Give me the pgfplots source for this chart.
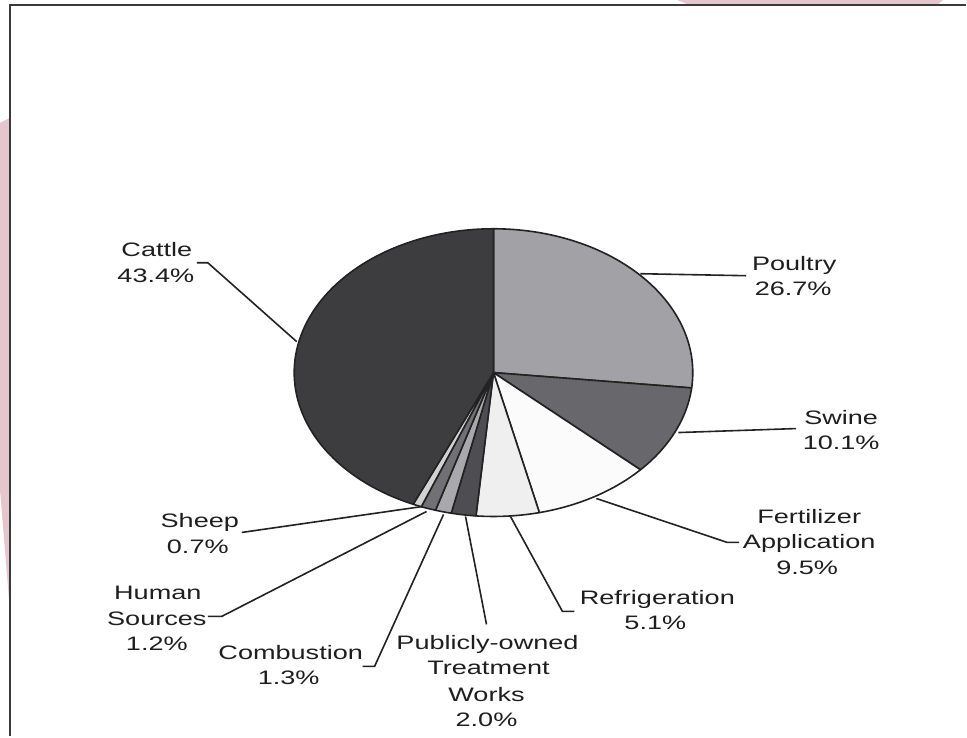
\documentclass[border=0pt]{standalone}
\usepackage{pgfplots}
\pgfplotsset{compat=1.18}
\usepackage{pgfplotstable}
\usepackage{graphicx}
\usepackage{fontspec}
\setmainfont{Liberation Sans}

\definecolor{cPoultry}{HTML}{A2A2A6}
\definecolor{cSwine}{HTML}{68686C}
\definecolor{cFert}{HTML}{FBFBFB}
\definecolor{cRefr}{HTML}{EFEFEF}
\definecolor{cPOTW}{HTML}{4D4D52}
\definecolor{cComb}{HTML}{A9A9AD}
\definecolor{cHuman}{HTML}{717175}
\definecolor{cSheep}{HTML}{D2D2D2}
\definecolor{cCattle}{HTML}{3D3D3F}
\definecolor{edge}{HTML}{222222}
\definecolor{txt}{HTML}{1E1E1E}
\definecolor{pinkbg}{HTML}{E6C6CD}
\definecolor{frame}{HTML}{3A3A3A}

% share of each source, clockwise from the top
\pgfplotstableread{
value color
26.7 cPoultry
10.1 cSwine
9.5 cFert
5.1 cRefr
2.0 cPOTW
1.3 cComb
1.2 cHuman
0.7 cSheep
43.4 cCattle
}\piedata

\newcommand{\lbl}[3]{\node[anchor=base, inner sep=0pt, text=txt, font=\fontsize{19.5bp}{24bp}\selectfont] at (axis cs:#1,#2) {\scalebox{1.39}[1]{#3}};}

\begin{document}
\begin{tikzpicture}
\begin{axis}[
  width=967bp, height=737bp, scale only axis,
  xmin=0, xmax=967, ymin=0, ymax=737, y dir=reverse,
  hide axis, clip=false]

\fill[white] (axis cs:0,0) rectangle (axis cs:967,737);
% background tint
\fill[pinkbg] (axis cs:0,123) -- (axis cs:10,118) -- (axis cs:10,612) -- (axis cs:0,490) -- cycle;
\fill[pinkbg] (axis cs:678,0) -- (axis cs:944,0) -- (axis cs:938,5) -- (axis cs:690,5) -- cycle;
% frame
\draw[frame, line width=2bp] (axis cs:10,737) -- (axis cs:10,5) -- (axis cs:967,5);

% wedges
\pgfplotstablegetrowsof{\piedata}
\pgfmathtruncatemacro\nrows{\pgfplotsretval-1}
\def\cum{0}
\pgfplotsforeachungrouped \i in {0,...,\nrows}{%
  \pgfplotstablegetelem{\i}{value}\of\piedata \let\v\pgfplotsretval
  \pgfplotstablegetelem{\i}{color}\of\piedata \let\c\pgfplotsretval
  \pgfmathsetmacro\a{90-3.6*\cum}%
  \pgfmathsetmacro\b{90-3.6*(\cum+\v)}%
  \edef\temp{\noexpand\addplot[fill=\c, draw=edge, line width=1.6bp, line join=round, domain=\b:\a, samples=80] ({494+199.5*cos(x)}, {373-144*sin(x)}) -- (axis cs:494,373) -- cycle;}%
  \temp
  \pgfmathsetmacro\cum{\cum+\v}%
}

% leader lines
\pgfplotsset{leader/.style={draw=edge, line width=1.6bp, mark=none}}
\addplot[leader] coordinates {(197,263) (208,263) (297,342)};
\addplot[leader] coordinates {(641,274) (747,276)};
\addplot[leader] coordinates {(679,433) (797,429)};
\addplot[leader] coordinates {(597,499) (728,543) (740,543)};
\addplot[leader] coordinates {(511,517) (563,612) (575,612)};
\addplot[leader] coordinates {(466,517) (487,625)};
\addplot[leader] coordinates {(444,515) (375,667) (363,667)};
\addplot[leader] coordinates {(427,512) (222,617) (208,617)};
\addplot[leader] coordinates {(423,507) (242,533)};

% labels
\lbl{157}{257}{Cattle}
\lbl{156}{283}{43.4\%}
\lbl{795}{271}{Poultry}
\lbl{794}{296}{26.7\%}
\lbl{842}{425}{Swine}
\lbl{842}{450}{10.1\%}
\node[fill=white, inner sep=0pt, minimum width=115bp, minimum height=9bp, anchor=north west] at (axis cs:790,449.5) {};
\lbl{810}{524}{Fertilizer}
\lbl{810}{549}{Application}
\lbl{808}{575}{9.5\%}
\lbl{658}{605}{Refrigeration}
\lbl{656}{630}{5.1\%}
\lbl{488}{650}{Publicly-owned}
\lbl{489}{675}{Treatment}
\lbl{487}{702}{Works}
\lbl{487}{727}{2.0\%}
\lbl{291}{660}{Combustion}
\lbl{289}{685}{1.3\%}
\lbl{158}{600}{Human}
\lbl{157}{626}{Sources}
\lbl{157}{651}{1.2\%}
\lbl{200}{528}{Sheep}
\lbl{198}{554}{0.7\%}
\end{axis}
\end{tikzpicture}
\end{document}
